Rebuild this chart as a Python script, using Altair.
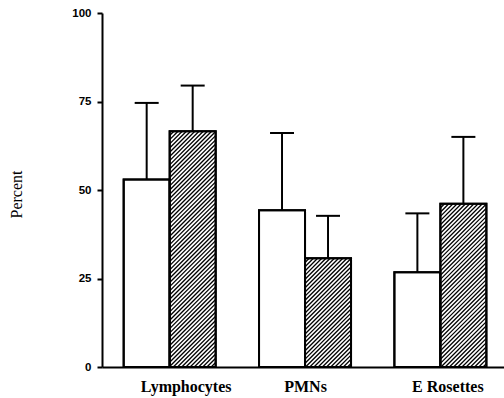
import json
import altair as alt
import pandas as pd

# ---- data ----
categories = ["Lymphocytes", "PMNs", "E Rosettes"]
series_names = ["Open", "Hatched"]
open_mean = [53.0, 44.3, 26.8]
open_sd = [21.6, 21.8, 16.6]
hatched_mean = [66.6, 30.7, 46.1]
hatched_sd = [12.9, 12.0, 18.9]
y_ticks = [0, 25, 50, 75, 100]

# ---- layout / style ----
W, H = 402, 354
X_MAX = 2.97                   # category units visible across the plot
PXU = W / X_MAX                # pixels per category unit
PYU = H / 100                  # pixels per percent
BAR_PX = 46
CAP_PX = 24
HATCH_STEP = 4.2
LABEL_SHIFT_PX = [16, 0, 7]

rows = []
for i, c in enumerate(categories):
    rows.append(dict(category=c, idx=i, series=series_names[0], mean=open_mean[i], sd=open_sd[i]))
    rows.append(dict(category=c, idx=i, series=series_names[1], mean=hatched_mean[i], sd=hatched_sd[i]))
df = pd.DataFrame(rows)

bw = BAR_PX / PXU
cap = CAP_PX / PXU / 2

base = alt.Chart(df).transform_calculate(
    xl=f"datum.idx + 0.5 - (datum.series == '{series_names[0]}' ? {bw} : 0)",
    xr=f"datum.idx + 0.5 + (datum.series == '{series_names[1]}' ? {bw} : 0)",
).transform_calculate(
    xc="(datum.xl + datum.xr) / 2",
    upper="datum.mean + datum.sd",
).transform_calculate(
    cl=f"datum.xc - {cap}",
    cr=f"datum.xc + {cap}",
)

xscale = alt.Scale(domain=[0, X_MAX], nice=False, zero=False)
yscale = alt.Scale(domain=[0, 100], nice=False)

x_axis = alt.Axis(
    values=[i + 0.5 + LABEL_SHIFT_PX[i] / PXU for i in range(len(categories))],
    labelExpr=f"{json.dumps(categories)}[floor(datum.value)]",
    title=None, ticks=False, grid=False,
    domainWidth=2, domainColor="black",
    labelFont="Liberation Serif", labelFontWeight="bold", labelFontSize=16,
    labelColor="black", labelPadding=11, labelFlush=False, labelOverlap=False,
    labelBound=False,
)
y_axis = alt.Axis(
    values=y_ticks, title="Percent", grid=False,
    titleFont="Liberation Serif", titleFontSize=16, titleFontWeight="normal",
    titleColor="black", titleAngle=-90, titleX=-86, titleY=181,
    titleAlign="center", titleBaseline="middle",
    labelFont="Liberation Sans", labelFontWeight="bold", labelFontSize=11.5,
    labelColor="black", labelPadding=6,
    tickSize=5, tickWidth=2, tickColor="black",
    domainWidth=2, domainColor="black",
)


def X(f):
    return alt.X(f"{f}:Q", scale=xscale, axis=x_axis, title=None)


def Y(f):
    return alt.Y(f"{f}:Q", scale=yscale, axis=y_axis, title="Percent")


bars = base.mark_rect(fill="white", stroke="black", strokeWidth=2).encode(
    x=X("xl"), x2="xr:Q", y=Y("mean"), y2=alt.datum(0)
)

hatch = (
    base.transform_filter(f"datum.series == '{series_names[1]}'")
    .transform_calculate(
        x0p=f"datum.xl * {PXU}",
        x1p=f"datum.xr * {PXU}",
        hp=f"datum.mean * {PYU}",
    )
    .transform_calculate(offs=f"sequence(datum.x0p - datum.hp, datum.x1p, {HATCH_STEP})")
    .transform_flatten(["offs"])
    .transform_calculate(
        sx="max(datum.x0p, datum.offs)",
        ex="min(datum.x1p, datum.offs + datum.hp)",
    )
    .transform_filter("datum.ex > datum.sx + 0.05")
    .transform_calculate(
        hx1=f"datum.sx / {PXU}",
        hx2=f"datum.ex / {PXU}",
        hy1=f"(datum.sx - datum.offs) / {PYU}",
        hy2=f"(datum.ex - datum.offs) / {PYU}",
    )
    .mark_rule(color="black", strokeWidth=1.3)
    .encode(x=X("hx1"), x2="hx2:Q", y=Y("hy1"), y2="hy2:Q")
)

outline = base.mark_rect(fillOpacity=0, stroke="black", strokeWidth=2).encode(
    x=X("xl"), x2="xr:Q", y=Y("mean"), y2=alt.datum(0)
)

whisk = base.mark_rule(color="black", strokeWidth=2).encode(
    x=X("xc"), y=Y("mean"), y2="upper:Q"
)

caps = base.mark_rule(color="black", strokeWidth=2).encode(
    x=X("cl"), x2="cr:Q", y=Y("upper")
)

chart = (
    alt.layer(bars, hatch, outline, whisk, caps)
    .properties(
        width=W, height=H,
        autosize=alt.AutoSizeParams(type="none"),
        padding={"left": 102, "top": 13, "right": 0, "bottom": 31},
        background="white",
    )
    .configure_view(stroke=None)
)

chart.save("out.html", embed_options={"renderer": "svg", "actions": False})
